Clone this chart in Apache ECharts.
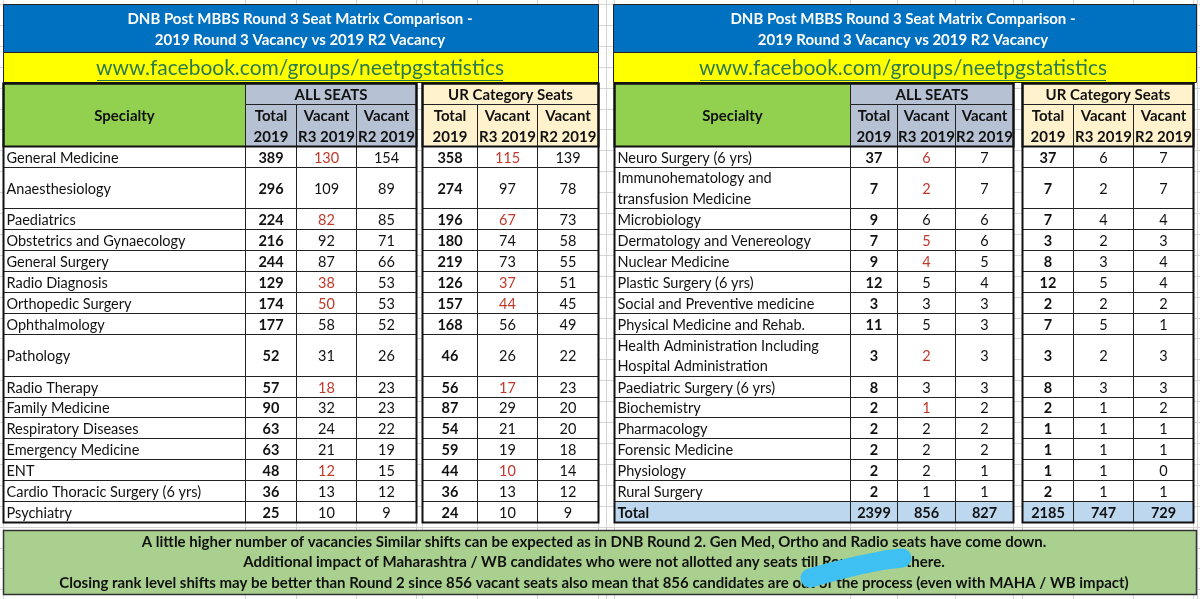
<!DOCTYPE html>
<html>
<head>
<meta charset="utf-8">
<script src="https://cdn.jsdelivr.net/npm/echarts@6/dist/echarts.min.js"></script>
<style>
  html, body { margin: 0; padding: 0; background: #fff; }
  #chart { width: 1200px; height: 599px; }
</style>
</head>
<body>
<div id="chart"></div>
<script>
// ---- data ----
const leftSpecialty = ['General Medicine', 'Anaesthesiology', 'Paediatrics', 'Obstetrics and Gynaecology',
  'General Surgery', 'Radio Diagnosis', 'Orthopedic Surgery', 'Ophthalmology', 'Pathology', 'Radio Therapy',
  'Family Medicine', 'Respiratory Diseases', 'Emergency Medicine', 'ENT', 'Cardio Thoracic Surgery (6 yrs)', 'Psychiatry'];
const leftAllTotal = [389, 296, 224, 216, 244, 129, 174, 177, 52, 57, 90, 63, 63, 48, 36, 25];
const leftAllR3 = [130, 109, 82, 92, 87, 38, 50, 58, 31, 18, 32, 24, 21, 12, 13, 10];
const leftAllR2 = [154, 89, 85, 71, 66, 53, 53, 52, 26, 23, 23, 22, 19, 15, 12, 9];
const leftUrTotal = [358, 274, 196, 180, 219, 126, 157, 168, 46, 56, 87, 54, 59, 44, 36, 24];
const leftUrR3 = [115, 97, 67, 74, 73, 37, 44, 56, 26, 17, 29, 21, 19, 10, 13, 10];
const leftUrR2 = [139, 78, 73, 58, 55, 51, 45, 49, 22, 23, 20, 20, 18, 14, 12, 9];
const leftRedAll = [0, 2, 5, 6, 9, 13];
const leftRedUr = [0, 2, 5, 6, 9, 13];

const rightSpecialty = ['Neuro Surgery (6 yrs)', 'Immunohematology and\ntransfusion Medicine', 'Microbiology',
  'Dermatology and Venereology', 'Nuclear Medicine', 'Plastic Surgery (6 yrs)', 'Social and Preventive medicine',
  'Physical Medicine and Rehab.', 'Health Administration Including\nHospital Administration',
  'Paediatric Surgery (6 yrs)', 'Biochemistry', 'Pharmacology', 'Forensic Medicine', 'Physiology', 'Rural Surgery', 'Total'];
const rightAllTotal = [37, 7, 9, 7, 9, 12, 3, 11, 3, 8, 2, 2, 2, 2, 2, 2399];
const rightAllR3 = [6, 2, 6, 5, 4, 5, 3, 5, 2, 3, 1, 2, 2, 2, 1, 856];
const rightAllR2 = [7, 7, 6, 6, 5, 4, 3, 3, 3, 3, 2, 2, 2, 1, 1, 827];
const rightUrTotal = [37, 7, 7, 3, 8, 12, 2, 7, 3, 8, 2, 1, 1, 1, 2, 2185];
const rightUrR3 = [6, 2, 4, 2, 3, 5, 2, 5, 2, 3, 1, 1, 1, 1, 1, 747];
const rightUrR2 = [7, 7, 4, 3, 4, 4, 2, 1, 3, 3, 2, 1, 1, 0, 1, 729];
const rightRedAll = [0, 1, 3, 4, 8, 10];
const rightRedUr = [];

// row heights in row units (two-line rows are 2)
const rowSpan = [1, 2, 1, 1, 1, 1, 1, 1, 2, 1, 1, 1, 1, 1, 1, 1];
const groupHeads = ['ALL SEATS', 'UR Category Seats'];
const colHeads = ['Total\n2019', 'Vacant\nR3 2019', 'Vacant\nR2 2019'];
const titleLines = ['DNB Post MBBS Round 3 Seat Matrix Comparison -', '2019 Round 3 Vacancy vs 2019 R2 Vacancy'];
const linkText = 'www.facebook.com/groups/neetpgstatistics';
const noteLines = [
  'A little higher number of vacancies Similar shifts can be expected as in DNB Round 2. Gen Med, Ortho and Radio seats have come down.',
  'Additional impact of Maharashtra / WB candidates who were not allotted any seats till Round 1 are there.',
  'Closing rank level shifts may be better than Round 2 since 856 vacant seats also mean that 856 candidates are out of the process (even with MAHA / WB impact)'
];

// ---- layout ----
const FONT = 'Lato';
const RED = '#c0392b';
const GREEN = '#92d050', GREY = '#b6c2d4', PEACH = '#fff2cc', TOTALBLUE = '#bdd7ee';
const UNITS = 21;                       // 3 header units + 18 body units
const leftEdges = [0, 242, 293, 353, 413, 419, 474, 534, 595];
const rightEdges = [0, 236, 283, 341, 399, 408, 459, 519, 579];
const TOP = 83, HEIGHT = 439;

function buildCells(names, cols, redAll, redUr, lastIsTotal) {
  const cells = [];
  cells.push({ c0: 0, c1: 1, r0: 0, r1: 3, text: 'Specialty', fill: GREEN, bold: true, size: 15 });
  cells.push({ c0: 1, c1: 4, r0: 0, r1: 1, text: groupHeads[0], fill: GREY, bold: true, size: 15 });
  cells.push({ c0: 5, c1: 8, r0: 0, r1: 1, text: groupHeads[1], fill: PEACH, bold: true, size: 15 });
  colHeads.forEach(function (t, k) {
    cells.push({ c0: 1 + k, c1: 2 + k, r0: 1, r1: 3, text: t, fill: GREY, bold: true, size: 15 });
    cells.push({ c0: 5 + k, c1: 6 + k, r0: 1, r1: 3, text: t, fill: PEACH, bold: true, size: 15 });
  });
  const colIdx = [1, 2, 3, 5, 6, 7];
  let r = 3;
  names.forEach(function (name, i) {
    const h = rowSpan[i];
    const isTotal = lastIsTotal && i === names.length - 1;
    const fill = isTotal ? TOTALBLUE : '#fff';
    cells.push({ c0: 0, c1: 1, r0: r, r1: r + h, text: name, fill: fill, bold: isTotal, align: 'left' });
    colIdx.forEach(function (c, k) {
      let red = false;
      if (c === 2 && redAll.indexOf(i) >= 0) red = true;
      if (c === 6 && redUr.indexOf(i) >= 0) red = true;
      cells.push({
        c0: c, c1: c + 1, r0: r, r1: r + h, text: String(cols[k][i]), fill: fill,
        bold: isTotal || c === 1 || c === 5, color: red ? RED : '#111'
      });
    });
    r += h;
  });
  cells.push({ c0: 0, c1: 4, r0: 0, r1: UNITS, frame: true });
  cells.push({ c0: 5, c1: 8, r0: 0, r1: UNITS, frame: true });
  cells.push({ c0: 0, c1: 4, r0: 0, r1: 3, frame: true });
  cells.push({ c0: 5, c1: 8, r0: 0, r1: 3, frame: true });
  return cells;
}

const leftCells = buildCells(leftSpecialty,
  [leftAllTotal, leftAllR3, leftAllR2, leftUrTotal, leftUrR3, leftUrR2], leftRedAll, leftRedUr, false);
const rightCells = buildCells(rightSpecialty,
  [rightAllTotal, rightAllR3, rightAllR2, rightUrTotal, rightUrR3, rightUrR2], rightRedAll, rightRedUr, true);

function renderCell(edges, cells) {
  return function (params, api) {
    const c = cells[api.value(2)];
    const p0 = api.coord([edges[c.c0], c.r0]);
    const p1 = api.coord([edges[c.c1], c.r1]);
    const x = Math.round(p0[0]) + 0.5, y = Math.round(p0[1]) + 0.5;
    const w = Math.round(p1[0]) - Math.round(p0[0]), h = Math.round(p1[1]) - Math.round(p0[1]);
    if (c.frame) {
      return { type: 'rect', z2: 10, shape: { x: x, y: y, width: w, height: h },
        style: { fill: 'none', stroke: '#111', lineWidth: 2 } };
    }
    const left = c.align === 'left';
    return {
      type: 'group',
      children: [
        { type: 'rect', shape: { x: x, y: y, width: w, height: h },
          style: { fill: c.fill, stroke: '#222', lineWidth: 1 } },
        { type: 'text', z2: 5,
          style: {
            text: c.text, x: left ? x + 3 : x + w / 2, y: y + h / 2 + 1,
            align: left ? 'left' : 'center', verticalAlign: 'middle',
            fill: c.color || '#111',
            font: (c.bold ? 'bold ' : '') + (c.size || 14.5) + 'px ' + FONT,
            lineHeight: 20.5
          } }
      ]
    };
  };
}

function cellData(edges, cells) {
  return cells.map(function (c, i) { return [edges[c.c0], c.r0, i]; });
}

// ---- background decoration: spreadsheet gridlines, title bands, note ----
const graphics = [];
const gridX = [];
leftEdges.forEach(function (e) { gridX.push(3 + e); });
rightEdges.forEach(function (e) { gridX.push(614 + e); });
gridX.push(606, 1197);
gridX.forEach(function (gx) {
  graphics.push({ type: 'line', z: 0, shape: { x1: gx + 0.5, y1: 0, x2: gx + 0.5, y2: 599 },
    style: { stroke: '#d4d4d4', lineWidth: 1 } });
});
for (let k = 0; k <= 28; k++) {
  const gy = Math.round(4 + k * (HEIGHT / UNITS)) + 0.5;
  graphics.push({ type: 'line', z: 0, shape: { x1: 0, y1: gy, x2: 1200, y2: gy },
    style: { stroke: '#d4d4d4', lineWidth: 1 } });
}

[[3, 595, 300], [613, 583, 903]].forEach(function (b) {
  const bx = b[0] + 0.5, bw = b[1], cx = b[2];
  graphics.push({ type: 'rect', z: 1, shape: { x: bx, y: 4.5, width: bw, height: 48 },
    style: { fill: '#0070c0', stroke: '#222', lineWidth: 1 } });
  titleLines.forEach(function (t, k) {
    graphics.push({ type: 'text', z: 2, style: { text: t, x: cx, y: 19 + k * 21, align: 'center', verticalAlign: 'middle',
      fill: '#fff', font: 'bold 15px ' + FONT } });
  });
  graphics.push({ type: 'rect', z: 1, shape: { x: bx, y: 52.5, width: bw, height: 30 },
    style: { fill: '#ffff00', stroke: '#222', lineWidth: 1 } });
  graphics.push({ type: 'text', z: 2, style: { text: linkText, x: cx, y: 68, align: 'center', verticalAlign: 'middle',
    fill: '#2b7a4e', font: '21px ' + FONT } });
  graphics.push({ type: 'line', z: 2, shape: { x1: cx - 203, y1: 80.5, x2: cx + 203, y2: 80.5 },
    style: { stroke: '#2b7a4e', lineWidth: 1 } });
});

graphics.push({ type: 'rect', z: 1, shape: { x: 3.5, y: 530.5, width: 1193, height: 64 },
  style: { fill: '#a9d08e', stroke: '#333', lineWidth: 1.5 } });
noteLines.forEach(function (t, k) {
  graphics.push({ type: 'text', z: 2, style: { text: t, x: 594, y: 542 + k * 20.5, align: 'center', verticalAlign: 'middle',
    fill: '#111', font: 'bold 15px ' + FONT } });
});
// blue marker scribble over part of the note
graphics.push({ type: 'polyline', z: 5,
  shape: { points: [[810, 578], [835, 571], [860, 565], [885, 560], [902, 558]] },
  style: { stroke: '#3ec1f2', lineWidth: 19, lineCap: 'round', lineJoin: 'round', fill: 'none' } });

const chart = echarts.init(document.getElementById('chart'));
chart.setOption({
  animation: false,
  backgroundColor: '#fff',
  graphic: graphics,
  grid: [
    { left: 3, top: TOP, width: leftEdges[8], height: HEIGHT },
    { left: 614, top: TOP, width: rightEdges[8], height: HEIGHT }
  ],
  xAxis: [
    { gridIndex: 0, type: 'value', min: 0, max: leftEdges[8], show: false },
    { gridIndex: 1, type: 'value', min: 0, max: rightEdges[8], show: false }
  ],
  yAxis: [
    { gridIndex: 0, type: 'value', min: 0, max: UNITS, inverse: true, show: false },
    { gridIndex: 1, type: 'value', min: 0, max: UNITS, inverse: true, show: false }
  ],
  series: [
    { type: 'custom', xAxisIndex: 0, yAxisIndex: 0, clip: false, z: 3,
      renderItem: renderCell(leftEdges, leftCells), data: cellData(leftEdges, leftCells) },
    { type: 'custom', xAxisIndex: 1, yAxisIndex: 1, clip: false, z: 3,
      renderItem: renderCell(rightEdges, rightCells), data: cellData(rightEdges, rightCells) }
  ]
});
</script>
</body>
</html>
